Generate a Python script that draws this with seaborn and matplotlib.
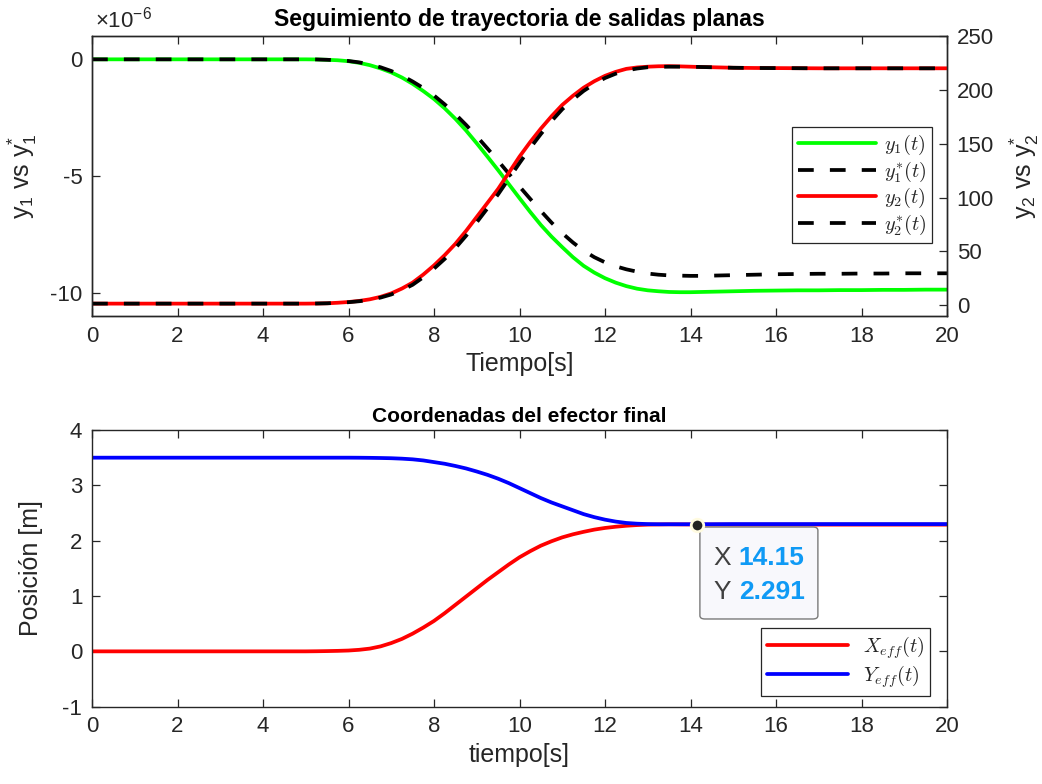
import numpy as np
import pandas as pd
import matplotlib
matplotlib.use("Agg")
import matplotlib.pyplot as plt
from matplotlib.patches import FancyBboxPatch
import seaborn as sns

# ---------------- data ----------------
t = [0.0, 0.5, 1.0, 1.5, 2.0, 2.5, 3.0, 3.5, 4.0, 4.5, 5.0,
     5.25, 5.5, 5.75, 6.0, 6.25, 6.5, 6.75, 7.0, 7.25, 7.5, 7.75, 8.0, 8.25,
     8.5, 8.75, 9.0, 9.25, 9.5, 9.75, 10.0, 10.25, 10.5, 10.75, 11.0, 11.25,
     11.5, 11.75, 12.0, 12.25, 12.5, 12.75, 13.0, 13.25, 13.5, 13.75, 14.0,
     14.25, 14.5,
     15.0, 15.5, 16.0, 16.5, 17.0, 17.5, 18.0, 18.5, 19.0, 19.5, 20.0]

# y1 and reference y1* (x 1e-6)
y1_micro = [0, 0, 0, 0, 0, 0, 0, 0, 0, 0, 0,
            -0.005, -0.02, -0.04, -0.08, -0.15, -0.25, -0.39, -0.56, -0.78, -1.05,
            -1.36, -1.7, -2.1, -2.55, -3.05, -3.6, -4.17, -4.75, -5.35, -5.95,
            -6.54, -7.1, -7.6, -8.05, -8.48, -8.85, -9.14, -9.38, -9.57, -9.72,
            -9.83, -9.9, -9.94, -9.97, -9.98, -9.98, -9.97, -9.96,
            -9.94, -9.92, -9.91, -9.9, -9.9, -9.89, -9.89, -9.88, -9.88, -9.87, -9.87]
y1ref_micro = [0, 0, 0, 0, 0, 0, 0, 0, 0, 0, 0,
               -0.005, -0.02, -0.04, -0.07, -0.13, -0.22, -0.34, -0.5, -0.7, -0.95,
               -1.23, -1.55, -1.93, -2.35, -2.81, -3.3, -3.82, -4.35, -4.9, -5.45,
               -5.98, -6.5, -7.0, -7.45, -7.85, -8.2, -8.48, -8.7, -8.87, -9.0,
               -9.1, -9.18, -9.23, -9.26, -9.27, -9.28, -9.28, -9.27,
               -9.25, -9.23, -9.21, -9.2, -9.19, -9.19, -9.18, -9.18, -9.17, -9.17, -9.17]
y2 = [1.5, 1.5, 1.5, 1.5, 1.5, 1.5, 1.5, 1.5, 1.5, 1.5, 1.5,
      1.6, 1.8, 2.3, 3.0, 4.0, 5.5, 7.8, 11, 15.5, 21, 28.5, 37, 46.5,
      57, 69, 82, 95, 108, 123, 138, 151.5, 164, 175.5, 186, 194.5,
      202, 208, 213, 216.7, 219.5, 220.8, 221.5, 221.9, 222, 221.8, 221.5,
      221.2, 221,
      220.5, 220.3, 220.2, 220.1, 220, 220, 220, 220, 220, 220, 220]
y2ref = [1.5, 1.5, 1.5, 1.5, 1.5, 1.5, 1.5, 1.5, 1.5, 1.5, 1.5,
         1.6, 1.8, 2.2, 2.8, 3.7, 5.0, 7.1, 10, 14, 19, 26, 34, 43,
         53, 64.5, 77, 90, 103, 117.5, 132, 146, 159, 171, 182, 191,
         199, 205.5, 211, 215, 218, 219.8, 221, 221.4, 221.5, 221.5, 221.5,
         221.2, 221,
         220.5, 220.3, 220.2, 220.1, 220, 220, 220, 220, 220, 220, 220]

# end-effector coordinates [m]
x_eff = [0, 0, 0, 0, 0, 0, 0, 0, 0, 0, 0,
         0.002, 0.005, 0.009, 0.015, 0.028, 0.05, 0.09, 0.15, 0.225, 0.32, 0.43,
         0.55, 0.69, 0.84, 0.99, 1.14, 1.29, 1.43, 1.57, 1.7, 1.81, 1.91, 1.99,
         2.06, 2.115, 2.16, 2.2, 2.23, 2.252, 2.27, 2.282, 2.29, 2.293, 2.295,
         2.294, 2.293, 2.291, 2.291,
         2.29, 2.29, 2.29, 2.29, 2.29, 2.29, 2.29, 2.29, 2.29, 2.29, 2.29]
y_eff = [3.5, 3.5, 3.5, 3.5, 3.5, 3.5, 3.5, 3.5, 3.5, 3.5, 3.5,
         3.5, 3.5, 3.5, 3.5, 3.499, 3.497, 3.494, 3.49, 3.482, 3.47, 3.45,
         3.42, 3.39, 3.35, 3.305, 3.25, 3.19, 3.12, 3.04, 2.95, 2.86, 2.77, 2.69,
         2.62, 2.55, 2.48, 2.425, 2.38, 2.345, 2.32, 2.307, 2.3, 2.297, 2.297,
         2.297, 2.297, 2.298, 2.298,
         2.3, 2.3, 2.3, 2.3, 2.3, 2.3, 2.3, 2.3, 2.3, 2.3, 2.3]

tip_x = 14.15
tip_y = 2.291

xticks = [0, 2, 4, 6, 8, 10, 12, 14, 16, 18, 20]
y1_ticks = [-10, -5, 0]
y2_ticks = [0, 50, 100, 150, 200, 250]
pos_ticks = [-1, 0, 1, 2, 3, 4]

df = pd.DataFrame({
    "t": t,
    "y1": np.array(y1_micro) * 1e-6,
    "y1ref": np.array(y1ref_micro) * 1e-6,
    "y2": y2, "y2ref": y2ref,
    "xeff": x_eff, "yeff": y_eff,
})

# ---------------- style ----------------
sns.set_theme(style="white")
plt.rcParams["font.family"] = ["Liberation Sans", "DejaVu Sans"]
plt.rcParams["mathtext.fontset"] = "cm"
plt.rcParams["mathtext.rm"] = "Liberation Sans"
plt.rcParams["mathtext.it"] = "Liberation Sans:italic"
plt.rcParams["mathtext.bf"] = "Liberation Sans:bold"
plt.rcParams["axes.unicode_minus"] = False

DARK = "#262626"
TICK_FS = 16
LABEL_FS = 18
LEG_FS = 14.5
LW = 2.7
DASH = (0, (4.2, 4.3))

fig = plt.figure(figsize=(10.42, 7.84), dpi=100)
W, H = 1042, 784
ax1 = fig.add_axes([92 / W, 1 - 316 / H, 855 / W, 280 / H])
ax2 = ax1.twinx()
ax3 = fig.add_axes([92 / W, 1 - 706.7 / H, 855 / W, 276.7 / H])

# top panel
sns.lineplot(data=df, x="t", y="y1", ax=ax1, color="#00ff00", linewidth=LW,
             label=r"$y_1(t)$", estimator=None, legend=False)
sns.lineplot(data=df, x="t", y="y1ref", ax=ax1, color="black", linewidth=LW,
             linestyle=DASH, label=r"$y_1^{*}(t)$", estimator=None, legend=False)
sns.lineplot(data=df, x="t", y="y2", ax=ax2, color="#ff0000", linewidth=LW,
             label=r"$y_2(t)$", estimator=None, legend=False)
sns.lineplot(data=df, x="t", y="y2ref", ax=ax2, color="black", linewidth=LW,
             linestyle=DASH, label=r"$y_2^{*}(t)$", estimator=None, legend=False)

# bottom panel
sns.lineplot(data=df, x="t", y="xeff", ax=ax3, color="#ff0000", linewidth=LW,
             label=r"$X_{eff}(t)$", estimator=None, legend=False)
sns.lineplot(data=df, x="t", y="yeff", ax=ax3, color="#0000ff", linewidth=LW,
             label=r"$Y_{eff}(t)$", estimator=None, legend=False)

for ax in (ax1, ax2, ax3):
    for sp in ax.spines.values():
        sp.set_color(DARK)
        sp.set_linewidth(1.0)
    ax.tick_params(direction="in", length=6, width=0.9, colors=DARK,
                   labelsize=TICK_FS, pad=7)

ax1.set_xlim(0, 20)
ax1.set_xticks(xticks)
ax1.set_ylim(-11e-6, 1e-6)
ax1.set_yticks(np.array(y1_ticks) * 1e-6)
ax1.set_yticklabels([str(v) for v in y1_ticks])
ax1.tick_params(axis="x", top=True, bottom=True)
ax1.tick_params(axis="y", left=True, right=False)
ax2.set_ylim(-10, 250)
ax2.set_yticks(y2_ticks)
ax2.tick_params(axis="y", right=True, left=False)
ax2.set_xlim(0, 20)

ax3.set_xlim(0, 20)
ax3.set_xticks(xticks)
ax3.set_ylim(-1, 4)
ax3.set_yticks(pos_ticks)
ax3.tick_params(top=True, bottom=True, left=True, right=True)

ax1.set_xlabel("Tiempo[s]", fontsize=LABEL_FS, color=DARK, labelpad=4)
ax1.set_ylabel(r"y$_1$ vs y$_1^{*}$", fontsize=LABEL_FS, color=DARK,
               math_fontfamily="custom", labelpad=8)
ax2.set_ylabel(r"y$_2$ vs y$_2^{*}$", fontsize=LABEL_FS, color=DARK,
               math_fontfamily="custom", labelpad=10)
ax1.set_title("Seguimiento de trayectoria de salidas planas", fontsize=16.6,
              fontweight="bold", color="black", pad=7)
ax1.text(0.003, 1.012, r"×10$^{-6}$", transform=ax1.transAxes, fontsize=TICK_FS,
         color=DARK, ha="left", va="bottom", math_fontfamily="custom")

ax3.set_xlabel("tiempo[s]", fontsize=LABEL_FS, color=DARK, labelpad=4)
ax3.set_ylabel("Posición [m]", fontsize=LABEL_FS, color=DARK, labelpad=14)
ax3.set_title("Coordenadas del efector final", fontsize=15,
              fontweight="bold", color="black", pad=6)

# legends
leg_kw = dict(loc="upper right", bbox_transform=fig.transFigure,
              fontsize=LEG_FS, frameon=True, fancybox=False, framealpha=1,
              edgecolor=DARK, borderpad=0.3, labelspacing=0.12, borderaxespad=0)
h1, l1 = ax1.get_legend_handles_labels()
h2, l2 = ax2.get_legend_handles_labels()
leg = ax2.legend(h1 + h2, l1 + l2, bbox_to_anchor=(932 / W, 1 - 127 / H),
                 handlelength=3.9, handletextpad=0.35, **leg_kw)
leg.get_frame().set_linewidth(0.9)

h3, l3 = ax3.get_legend_handles_labels()
leg3 = ax3.legend(h3, l3, bbox_to_anchor=(930 / W, 1 - 628 / H),
                  handlelength=4.0, handletextpad=0.75, **leg_kw)
leg3.get_frame().set_linewidth(0.9)

# data tip
box = FancyBboxPatch((14.22, 0.585), 16.98 - 14.22, 2.247 - 0.585,
                     boxstyle="round,pad=0,rounding_size=0.12",
                     transform=ax3.transData, facecolor="#f8f8fc",
                     edgecolor="#7a7a7a", linewidth=1.0, zorder=5,
                     mutation_aspect=0.5)
ax3.add_patch(box)
ax3.plot([tip_x], [tip_y], marker="o", markersize=9, color="#222222",
         markeredgecolor="#fffbe0", markeredgewidth=2, zorder=6)
ax3.text(14.53, 1.69, "X", fontsize=19, color="#404040", va="center",
         ha="left", zorder=7)
ax3.text(15.13, 1.69, f"{tip_x:.2f}", fontsize=19, color="#0f9af5",
         fontweight="bold", va="center", ha="left", zorder=7)
ax3.text(14.53, 1.07, "Y", fontsize=19, color="#404040", va="center",
         ha="left", zorder=7)
ax3.text(15.13, 1.07, f"{tip_y:.3f}", fontsize=19, color="#0f9af5",
         fontweight="bold", va="center", ha="left", zorder=7)

fig.savefig("out.png", dpi=100, facecolor="white")
